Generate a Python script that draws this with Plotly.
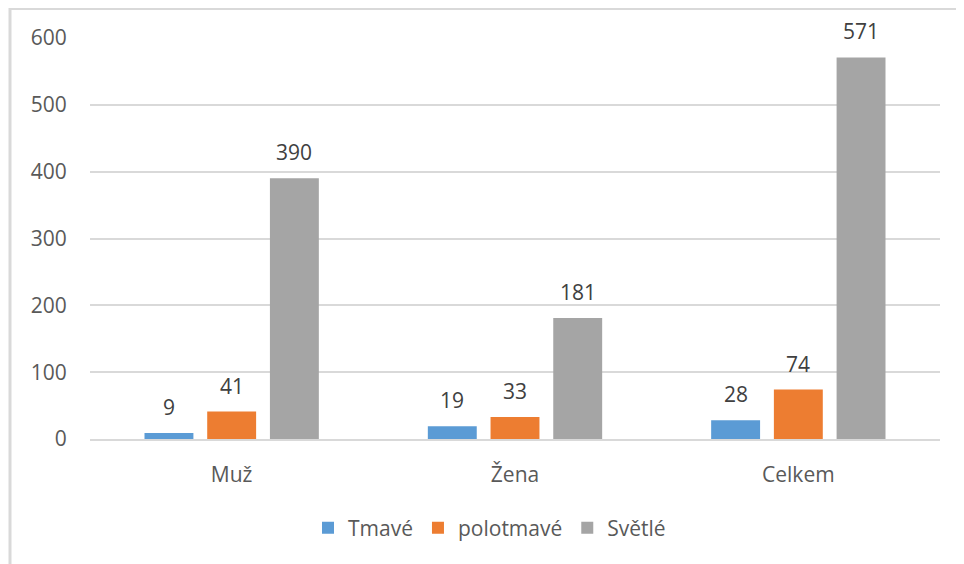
import plotly.graph_objects as go

# categories and series
categories = ["Muž", "Žena", "Celkem"]
tmave = [9, 19, 28]
polotmave = [41, 33, 74]
svetle = [390, 181, 571]

series_names = ["Tmavé", "polotmavé", "Světlé"]
colors = ["#5B9BD5", "#ED7D31", "#A5A5A5"]
series = [tmave, polotmave, svetle]

# page has an 8px body margin, so the figure is a bit smaller than the window
W, H = 956, 556
L, R, T, B = 82, 24, 30, 125
pw, ph = W - L - R, H - T - B

def px_x(p):
    return (p - L) / pw

def px_y(p):
    return (H - B - p) / ph

fig = go.Figure()
for name, vals, col in zip(series_names, series, colors):
    fig.add_trace(go.Bar(
        x=categories, y=vals, name=name,
        marker=dict(color=col, line=dict(width=0)),
    ))

# value labels above the bars, shifted to the bar slots
slot = 62.7
annotations = []
for i, vals in enumerate(series):
    for cat, v in zip(categories, vals):
        annotations.append(dict(
            x=cat, y=v, xref="x", yref="y", text=str(v), showarrow=False,
            xshift=(i - 1) * slot, yshift=10, yanchor="bottom",
            font=dict(size=21, color="#404040"),
        ))

fig.update_layout(
    width=W, height=H,
    margin=dict(l=L, r=R, t=T, b=B),
    paper_bgcolor="white", plot_bgcolor="white",
    font=dict(family="Open Sans, Noto Sans, sans-serif", color="#595959", size=21),
    barmode="group", bargap=0.336, bargroupgap=0.22,
    showlegend=True,
    legend=dict(orientation="h", x=0.47, xanchor="center", y=px_y(520), yanchor="middle",
                font=dict(size=21, color="#595959"), traceorder="normal"),
    annotations=annotations,
    shapes=[
        dict(type="line", xref="paper", yref="paper", x0=px_x(2), x1=px_x(1000),
             y0=px_y(0.5), y1=px_y(0.5), line=dict(color="#D9D9D9", width=3)),
        dict(type="line", xref="paper", yref="paper", x0=px_x(2), x1=px_x(2),
             y0=px_y(0), y1=px_y(600), line=dict(color="#D9D9D9", width=3)),
    ],
)
fig.update_yaxes(range=[0, 600], dtick=100, showgrid=True, gridcolor="#D9D9D9", gridwidth=1.5,
                 zeroline=False, showline=False, ticks="outside", ticklen=18, tickcolor="white",
                 tickfont=dict(size=21, color="#595959"))
fig.update_xaxes(showline=True, linecolor="#D9D9D9", linewidth=1.5, ticks="outside",
                 ticklen=16, tickcolor="rgba(0,0,0,0)", tickfont=dict(size=21, color="#595959"))

fig.write_html("out.html")
